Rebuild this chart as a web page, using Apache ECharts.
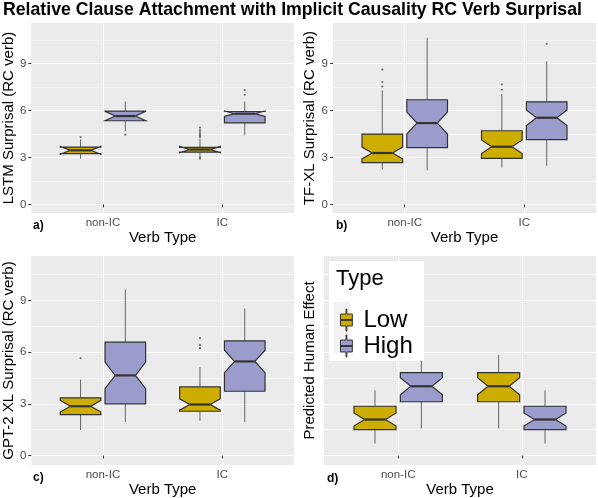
<!DOCTYPE html>
<html>
<head>
<meta charset="utf-8">
<script src="https://cdn.jsdelivr.net/npm/echarts@6/dist/echarts.min.js"></script>
<style>html,body{margin:0;padding:0;background:#fff}#chart{width:598px;height:498px}</style>
</head>
<body>
<div id="chart"></div>
<script>
var verbTypes = ['non-IC', 'IC'];
var typeNames = ['Low', 'High'];
var yTicks = [0, 3, 6, 9];
var yMinor = [1.5, 4.5, 7.5, 10.5];

// rows: [verb (1 = non-IC, 2 = IC), lower whisker, Q1, median, Q3, upper whisker, notch half-height]
var lstmLow = [[1, 2.92, 3.24, 3.45, 3.66, 4.15, 0.25], [2, 3.1, 3.34, 3.5, 3.64, 4.2, 0.2]];
var lstmHigh = [[1, 4.68, 5.34, 5.64, 5.96, 6.57, 0.3], [2, 4.4, 5.21, 5.79, 5.93, 6.57, 0.17]];
var lstmLowOut = [[1, 4.3], [2, 4.3], [2, 4.4], [2, 4.5], [2, 4.62], [2, 4.75], [2, 4.9], [2, 3.0], [2, 2.92]];
var lstmHighOut = [[1, 4.45], [2, 7.0], [2, 7.29]];

var tfxlLow = [[1, 2.23, 2.66, 3.28, 4.49, 7.28, 0.38], [2, 2.34, 2.94, 3.68, 4.7, 7.06, 0.43]];
var tfxlHigh = [[1, 2.17, 3.62, 5.19, 6.68, 10.64, 0.7], [2, 2.47, 4.13, 5.53, 6.55, 9.13, 0.5]];
var tfxlLowOut = [[1, 7.53], [1, 7.81], [1, 8.6], [2, 7.32], [2, 7.66]];
var tfxlHighOut = [[2, 10.25]];

var gpt2Low = [[1, 1.48, 2.37, 2.86, 3.35, 4.4, 0.34], [2, 2.02, 2.57, 2.96, 3.98, 5.13, 0.33]];
var gpt2High = [[1, 1.94, 3.0, 4.65, 6.58, 9.63, 0.77], [2, 1.94, 3.73, 5.46, 6.65, 8.54, 0.65]];
var gpt2LowOut = [[1, 5.65], [2, 6.23], [2, 6.42], [2, 6.81]];
var gpt2HighOut = [];

var humanLow = [[1, 0.69, 1.5, 2.09, 2.86, 3.79, 0.38], [2, 1.58, 3.12, 4.02, 4.81, 5.83, 0.5]];
var humanHigh = [[1, 1.58, 3.12, 4.02, 4.81, 5.83, 0.5], [2, 0.69, 1.5, 2.09, 2.86, 3.79, 0.38]];
var humanLowOut = [];
var humanHighOut = [];

var panels = [
  {tag: 'a)', yName: 'LSTM Surprisal (RC verb)', low: lstmLow, high: lstmHigh, lowOut: lstmLowOut, highOut: lstmHighOut},
  {tag: 'b)', yName: 'TF-XL Surprisal (RC verb)', low: tfxlLow, high: tfxlHigh, lowOut: tfxlLowOut, highOut: tfxlHighOut},
  {tag: 'c)', yName: 'GPT-2 XL Surprisal (RC verb)', low: gpt2Low, high: gpt2High, lowOut: gpt2LowOut, highOut: gpt2HighOut},
  {tag: 'd)', yName: 'Predicted Human Effect', low: humanLow, high: humanHigh, lowOut: humanLowOut, highOut: humanHighOut}
];

// layout
var grids = [
  {left: 30, top: 23, width: 264, height: 190, nameGap: 14.5, yLabels: true},
  {left: 333, top: 23, width: 263, height: 190, nameGap: 15.5, yLabels: true},
  {left: 30, top: 256, width: 264, height: 209, nameGap: 14.5, yLabels: true},
  {left: 324, top: 256, width: 272, height: 210, nameGap: 7, yLabels: false}
];
var colors = {Low: '#CDAD00', High: '#9B9BCC'};
var BOX_W = 0.34, DODGE = 0.1875;
var FONT = '"Liberation Sans", Arial, sans-serif';

function notchedBox(offset, fill) {
  return function (params, api) {
    var x = api.value(0) + offset, h = BOX_W / 2;
    var lo = api.value(1), q1 = api.value(2), md = api.value(3), q3 = api.value(4), hi = api.value(5), nt = api.value(6);
    var p = function (dx, v) { return api.coord([x + dx, v]); };
    var ln = function (a, b, w, c) {
      return {type: 'line', shape: {x1: a[0], y1: a[1], x2: b[0], y2: b[1]}, style: {stroke: c, lineWidth: w}};
    };
    return {
      type: 'group',
      children: [
        ln(p(0, q3), p(0, hi), 1, '#666'),
        ln(p(0, q1), p(0, lo), 1, '#666'),
        {
          type: 'polygon',
          shape: {points: [p(-h, q3), p(-h, md + nt), p(-h / 2, md), p(-h, md - nt), p(-h, q1),
                           p(h, q1), p(h, md - nt), p(h / 2, md), p(h, md + nt), p(h, q3)]},
          style: {fill: fill, stroke: '#333', lineWidth: 1.2}
        },
        ln(p(-h / 2, md), p(h / 2, md), 2.2, '#333')
      ]
    };
  };
}

var option = {
  animation: false,
  textStyle: {fontFamily: FONT},
  title: {text: 'Relative Clause Attachment with Implicit Causality RC Verb Surprisal', left: 3, top: 1, padding: 0,
          textStyle: {fontSize: 17.7, fontWeight: 'bold', color: '#000', fontFamily: FONT}},
  grid: [], xAxis: [], yAxis: [], series: [],
  legend: {
    data: typeNames, orient: 'vertical', left: 335, top: 303, itemWidth: 14, itemHeight: 22, itemGap: 2,
    selectedMode: false, z: 20,
    icon: 'path://M6.5,0L7.5,0L7.5,6L14,6L14,20L7.5,20L7.5,26L6.5,26L6.5,20L0,20L0,6L6.5,6ZM0,12.5L14,12.5L14,13.5L0,13.5Z',
    itemStyle: {borderColor: '#333', borderWidth: 1},
    textStyle: {fontSize: 24, lineHeight: 22, color: '#000', padding: [0, 0, 0, 5]}
  },
  graphic: [
    {type: 'rect', shape: {x: 329, y: 261, width: 95, height: 100}, style: {fill: '#fff'}, z: 15},
    {type: 'rect', shape: {x: 334, y: 302, width: 17, height: 51}, style: {fill: '#F2F2F2'}, z: 15},
    {type: 'text', x: 336, y: 279, z: 16, style: {text: 'Type', fontSize: 22, fill: '#000', verticalAlign: 'middle', fontFamily: FONT}}
  ]
};

panels.forEach(function (pn, i) {
  var g = grids[i];
  option.grid.push({left: g.left, top: g.top, width: g.width, height: g.height, show: true,
                    backgroundColor: '#EBEBEB', borderWidth: 0});
  option.xAxis.push({
    type: 'value', gridIndex: i, min: 0.4, max: 2.6,
    name: 'Verb Type', nameLocation: 'middle', nameGap: 17,
    nameTextStyle: {fontSize: 15, color: '#000'},
    axisLine: {show: false},
    axisTick: {customValues: [1, 2], length: 3, lineStyle: {color: '#333'}},
    axisLabel: {customValues: [1, 2], margin: 4, fontSize: 11.5, color: '#4D4D4D',
                formatter: function (v) { return verbTypes[Math.round(v) - 1]; }},
    splitLine: {show: true, lineStyle: {color: '#fff', width: 1.1}}
  });
  option.yAxis.push({
    type: 'value', gridIndex: i, min: -0.55, max: 11.58,
    name: pn.yName, nameLocation: 'middle', nameGap: g.nameGap,
    nameTextStyle: {fontSize: 15, color: '#000'},
    axisLine: {show: false},
    axisTick: {show: g.yLabels, customValues: yTicks, length: 3, lineStyle: {color: '#333'}},
    axisLabel: {show: g.yLabels, customValues: yTicks, margin: 5, fontSize: 11.5, color: '#4D4D4D'},
    splitLine: {show: true, lineStyle: {color: '#fff', width: 1.1}}
  });
  option.yAxis.push({
    type: 'value', gridIndex: i, min: -0.55, max: 11.58,
    axisLine: {show: false}, axisLabel: {show: false},
    axisTick: {show: false, customValues: yMinor},
    splitLine: {show: true, lineStyle: {color: '#fff', width: 0.5}}
  });
  [['Low', pn.low, pn.lowOut, -DODGE], ['High', pn.high, pn.highOut, DODGE]].forEach(function (s) {
    option.series.push({
      type: 'custom', name: s[0], xAxisIndex: i, yAxisIndex: 2 * i,
      itemStyle: {color: colors[s[0]]},
      encode: {x: 0, y: [1, 2, 3, 4, 5]},
      renderItem: notchedBox(s[3], colors[s[0]]),
      data: s[1]
    });
    option.series.push({
      type: 'scatter', name: s[0] + ' outliers', xAxisIndex: i, yAxisIndex: 2 * i,
      symbolSize: 2.2, itemStyle: {color: '#555'}, silent: true,
      data: s[2].map(function (o) { return [o[0] + s[3], o[1]]; })
    });
  });
  option.graphic.push({type: 'text', x: g.left + 3, y: g.top + g.height + 13, z: 16,
    style: {text: pn.tag, fontSize: 12, fontWeight: 'bold', fill: '#000', verticalAlign: 'middle', fontFamily: FONT}});
});

var chart = echarts.init(document.getElementById('chart'));
chart.setOption(option);
</script>
</body>
</html>
